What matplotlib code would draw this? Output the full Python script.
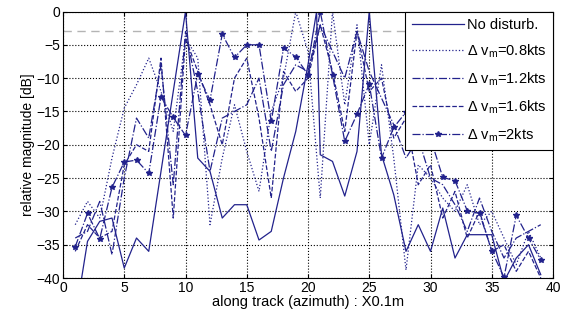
import numpy as np
import matplotlib
matplotlib.use('Agg')
import matplotlib.pyplot as plt

plt.rcParams['font.family'] = ['Liberation Sans', 'DejaVu Sans']
plt.rcParams['mathtext.fontset'] = 'custom'
plt.rcParams['mathtext.rm'] = 'Liberation Sans'

# data (x: along track in 0.1 m, y: dB)
x_nodist = [1, 2, 3, 4, 5, 6, 7, 8, 9, 10, 11, 12, 13, 14, 15, 16, 17, 18, 19, 20,
            20.7, 21, 22, 23, 24, 25, 26, 27, 28, 29, 30, 31, 32, 33, 34, 35, 36, 37, 38, 39]
y_nodist = [-46, -34.5, -31.5, -31, -38.5, -34, -36, -24, -12, 0, -22, -24, -31, -29, -29,
            -34.3, -33, -25, -18, -8, 0, -21.5, -22.5, -27.7, -21, 0, -21.5, -27.5, -36, -32,
            -36, -29.5, -37, -33.5, -33.5, -33.5, -40.5, -37, -35, -39.5]

x_int = list(range(1, 40))
y_08 = [-32, -28.5, -31, -22, -14.5, -11, -7, -12, -18, -4, -7, -32, -22, -14, -21,
        -27, -15, -10, 0, -6, -28, 0, -14, -2, -20, -8, -22, -38.8, -23, -25,
        -28, -30, -26, -32, -30, -34, -38, -33, -37]
y_12 = [-34, -33, -28.5, -36.5, -25, -16, -19, -8, -26, -3, -12, -24, -16, -15, -14,
        -10, -21, -11, -8, -9, -2, -6, -10, -3, -9, -13, -17, -22, -19, -25,
        -26, -29, -33, -28, -33, -37, -34, -33, -32]
y_16 = [-36, -32, -34, -33, -23, -20, -21, -7, -31, -4, -9, -14, -20, -10, -7,
        -16, -28, -9, -12, -10, -2, -9, -18, -3, -12, -10, -19, -16, -26, -23,
        -31, -27, -34, -30, -36, -35, -39, -36, -40]
y_2 = [-35.3, -30.3, -34.1, -26.4, -22.6, -22.3, -24.3, -12.8, -15.9, -18.6, -9.4, -13.3,
       -3.4, -6.9, -5, -5, -16.5, -5.5, -6.8, -9.5, 0, -9.5, -19.5, -15.4, -10.9, -22,
       -17.4, -15.1, -18, -19, -24.9, -25.4, -29.9, -30.3, -35.9, -39.9, -30.6, -34, -37.3]

labels = ['No disturb.',
          r'$\Delta$ v$_\mathrm{m}$=0.8kts',
          r'$\Delta$ v$_\mathrm{m}$=1.2kts',
          r'$\Delta$ v$_\mathrm{m}$=1.6kts',
          r'$\Delta$ v$_\mathrm{m}$=2kts']

col = '#22228c'

fig = plt.figure(figsize=(5.61, 3.2), dpi=100)
ax = fig.add_axes([63 / 561, 1 - 278 / 320, 490 / 561, 266.5 / 320])

ax.axhline(-3, color='#b4b4b4', ls=(0, (6, 4)), lw=1.0, zorder=1)

ax.plot(x_nodist, y_nodist, '-', color=col, lw=0.9, label=labels[0])
ax.plot(x_int, y_08, ':', color=col, lw=0.9, label=labels[1])
ax.plot(x_int, y_12, '-.', color=col, lw=0.9, label=labels[2])
ax.plot(x_int, y_16, '--', color=col, lw=0.9, label=labels[3])
ax.plot(x_int, y_2, '-.', color=col, lw=0.9, marker='*', ms=4, label=labels[4])

ax.set_xlim(0, 40)
ax.set_ylim(-40, 0)
ax.set_xticks(np.arange(0, 41, 5))
ax.set_yticks(np.arange(-40, 1, 5))
ax.grid(True, ls=':', color='k', lw=0.8)
ax.tick_params(direction='in', top=True, right=True, labelsize=10, length=3, pad=2)
ax.set_xlabel('along track (azimuth) : X0.1m', fontsize=10.5, labelpad=0)
ax.set_ylabel('relative magnitude [dB]', fontsize=10, labelpad=1)
for s in ax.spines.values():
    s.set_linewidth(0.8)

leg = ax.legend(loc='upper right', fontsize=10.5, fancybox=False, framealpha=1,
                edgecolor='k', borderaxespad=0, handlelength=3.6, labelspacing=0.7,
                borderpad=0.45, handletextpad=0.2)
leg.get_frame().set_linewidth(0.8)

fig.savefig('out.png', dpi=100)
